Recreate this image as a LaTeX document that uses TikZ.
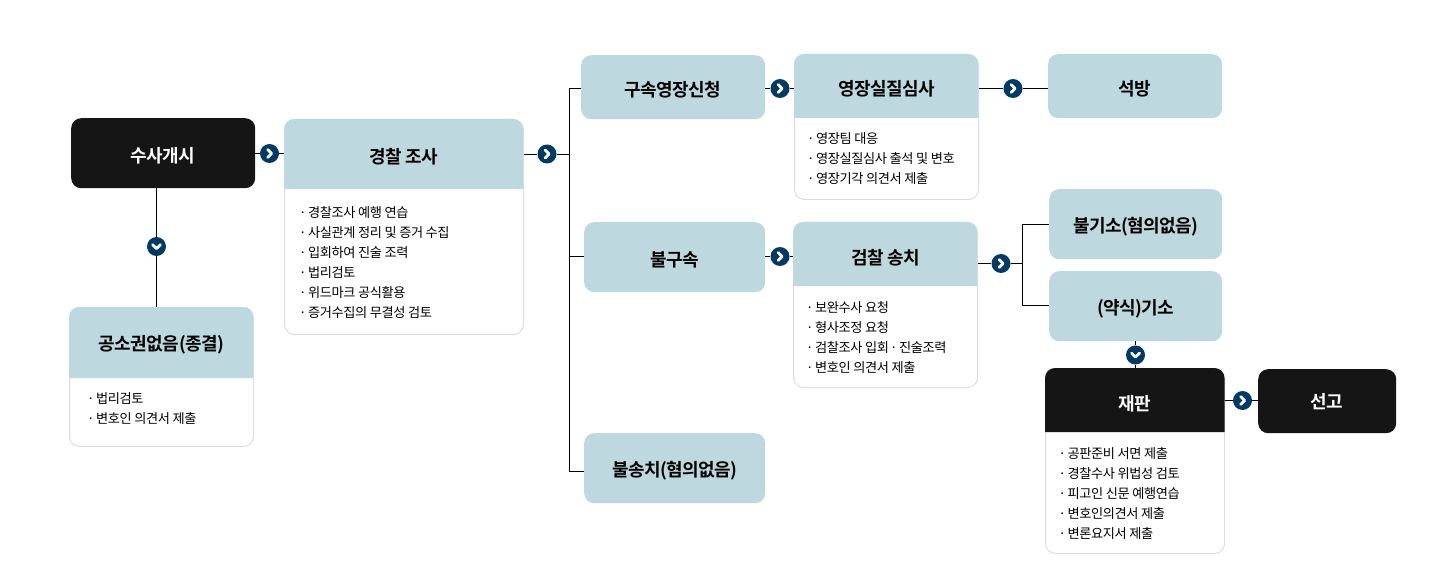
\documentclass[tikz,border=0pt]{standalone}
\usepackage{fontspec}
\setmainfont{Noto Sans CJK KR}[BoldFont={Noto Sans CJK KR Bold},LetterSpace=-3]
\definecolor{headblue}{HTML}{BDD9DF}
\definecolor{inkblack}{HTML}{151515}
\definecolor{navy}{HTML}{023A64}
\definecolor{edgegray}{HTML}{DDDDDD}
\newcommand{\bul}{·\kern-1pt\ }
\newcommand{\ttl}[1]{\raisebox{-2.25pt}[\height][\depth]{#1}}
\tikzset{
  x=1pt,y=-1pt,
  link/.style={draw=black,line width=1pt},
  flatbox/.style={rounded corners=10pt,inner sep=0pt,anchor=north west,font=\fontsize{18}{20}\selectfont\bfseries},
  bluebox/.style={flatbox,fill=headblue,text=black},
  darkbox/.style={flatbox,fill=inkblack,text=white},
  cardshell/.style={rounded corners=10pt,draw=edgegray,line width=1pt,fill=white,inner sep=0pt,anchor=north west},
  headtext/.style={font=\fontsize{18}{20}\selectfont\bfseries,inner sep=0pt},
  listtext/.style={font=\fontsize{13.2}{20}\selectfont,align=left,anchor=north west,inner sep=0pt,text=black},
  circbase/.style={circle,fill=navy,minimum size=19pt,inner sep=0pt},
  circright/.style={circbase,path picture={\draw[white,line width=2.8pt,line cap=round,line join=round] ([xshift=-1.8pt,yshift=4pt]path picture bounding box.center) -- ([xshift=2.2pt]path picture bounding box.center) -- ([xshift=-1.8pt,yshift=-4pt]path picture bounding box.center);}},
  circdown/.style={circbase,path picture={\draw[white,line width=2.8pt,line cap=round,line join=round] ([xshift=-4pt,yshift=1.8pt]path picture bounding box.center) -- ([yshift=-2.2pt]path picture bounding box.center) -- ([xshift=4pt,yshift=1.8pt]path picture bounding box.center);}},
}
% name, x, y, w, h, head h, title, list position, list
\newcommand{\cardbox}[9]{%
  \begin{scope}[shift={(#2,#3)}]
    \node[cardshell,minimum width=#4pt-1pt,minimum height=#5pt] (#1) at (0,0) {};
    \fill[headblue] (0,#6) {[rounded corners=10pt] -- (0,0) -- ({#4-1},0)} -- ({#4-1},#6) -- cycle;
    \node[headtext] (#1title) at ({#4/2},{#6/2+(#6<65)}) {\ttl{#7}};
    \node[listtext] (#1list) at (#8) {#9};
  \end{scope}}
\newcommand{\flatbox}[7]{%
  \node[#7,minimum width=#4pt,minimum height=#5pt] (#1) at (#2,#3) {#6};}
\begin{document}
\begin{tikzpicture}
\useasboundingbox (0,0) rectangle (1438,588);
% connector markers
\node[circright] (m1) at (269.5,153.5) {};
\node[circdown]  (m2) at (156.5,246.5) {};
\node[circright] (m3) at (547,154) {};
\node[circright] (m4) at (780,88.5) {};
\node[circright] (m5) at (1013,88.5) {};
\node[circright] (m6) at (780,256.5) {};
\node[circright] (m7) at (1001,263.5) {};
\node[circdown]  (m8) at (1135.5,355) {};
\node[circright] (m9) at (1242.5,400.5) {};
\coordinate (j1) at (569.5,154.5);
\coordinate (j2) at (1022.5,263.5);
% boxes
\flatbox{start}{71}{118}{184}{70}{\ttl{수사개시}}{darkbox}
\cardbox{police}{284}{119}{240}{215}{70}{경찰 조사}{15,87.5}{\bul 경찰조사 예행 연습\\\bul 사실관계 정리 및 증거 수집\\\bul 입회하여 진술 조력\\\bul 법리검토\\\bul 위드마크 공식활용\\\bul 증거수집의 무결성 검토}
\cardbox{nocase}{69}{307}{185}{139}{71}{공소권없음(종결)}{18,85}{\bul 법리검토\\\bul 변호인 의견서 제출}
\flatbox{arrestreq}{581}{55}{184}{64}{\ttl{구속영장신청}}{bluebox}
\cardbox{hearing}{794}{54}{185}{145}{64}{영장실질심사}{13,78.5}{\bul 영장팀 대응\\\bul 영장실질심사 출석 및 변호\\\bul 영장기각 의견서 제출}
\flatbox{release}{1048}{54}{174}{64}{\ttl{석방}}{bluebox}
\flatbox{noarrest}{584}{222}{181}{70}{\ttl{불구속}}{bluebox}
\cardbox{prosecutor}{793}{222}{185}{165}{64}{검찰 송치}{13,79.5}{\bul 보완수사 요청\\\bul 형사조정 요청\\\bul 검찰조사 입회\kern-1.5pt{} ·\kern-1pt{} 진술조력\\\bul 변호인 의견서 제출}
\flatbox{noindict}{1049}{189}{173}{70}{\ttl{불기소(혐의없음)}}{bluebox}
\flatbox{indict}{1049}{271}{173}{70}{\ttl{(약식)기소}}{bluebox}
\flatbox{nosend}{584}{433}{181}{70}{\ttl{불송치(혐의없음)}}{bluebox}
\begin{scope}[shift={(1045,368)}]
  \node[cardshell,minimum width=179pt,minimum height=185pt] (trial) at (0,0) {};
  \fill[inkblack] (0,64) {[rounded corners=10pt] -- (0,0) -- (179.5,0)} -- (179.5,64) -- cycle;
  \node[headtext,text=white] (trialtitle) at (90,33.5) {\ttl{재판}};
  \node[listtext] (triallist) at (13.5,79.5) {\bul 공판준비 서면 제출\\\bul 경찰수사 위법성 검토\\\bul 피고인 신문 예행연습\\\bul 변호인의견서 제출\\\bul 변론요지서 제출};
\end{scope}
\flatbox{verdict}{1258}{369}{138}{64}{선고}{darkbox}
% connector end points on box edges
\coordinate (b1) at (arrestreq.west |- m4);
\coordinate (b2) at (noarrest.west |- m6);
\coordinate (b3) at ([yshift=-3.5pt]nosend.west);
\coordinate (b4) at ([yshift=-0.5pt]noindict.west);
\coordinate (b5) at ([yshift=0.5pt]indict.west);
% connectors
\draw[link] (start.east |- m1) -- (m1);
\draw[link] (m1) -- (police.west |- m1);
\draw[link] (start.south -| m2) -- (m2);
\draw[link] (m2) -- (nocase.north -| m2);
\draw[link] (police.east |- j1) -- (m3.west |- j1);
\draw[link] (m3.east |- j1) -- (j1);
\draw[link] (b1) -| (j1);
\draw[link] (b2) -| (j1);
\draw[link] (b3) -| (j1);
\draw[link] (arrestreq.east |- m4) -- (m4);
\draw[link] (m4) -- (hearing.west |- m4);
\draw[link] (hearing.east |- m5) -- (m5);
\draw[link] (m5) -- (release.west |- m5);
\draw[link] (noarrest.east |- m6) -- (m6);
\draw[link] (m6) -- (prosecutor.west |- m6);
\draw[link] (prosecutor.east |- m7) -- (m7);
\draw[link] (m7) -- (j2);
\draw[link] (b4) -| (j2);
\draw[link] (b5) -| (j2);
\draw[link] (indict.south -| m8) -- (m8);
\draw[link] (m8) -- (trial.north -| m8);
\draw[link] (trial.east |- m9) -- (m9);
\draw[link] (m9) -- (verdict.west |- m9);
\end{tikzpicture}
\end{document}
